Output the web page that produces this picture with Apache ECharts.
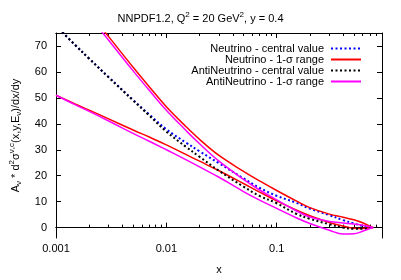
<!DOCTYPE html>
<html><head><meta charset="utf-8">
<script src="https://cdn.jsdelivr.net/npm/echarts@6/dist/echarts.min.js"></script>
<style>html,body{margin:0;padding:0;background:#fff}#c{width:401px;height:280px}</style>
</head><body><div id="c"></div>
<script>
const xValues      = [0.001, 0.0015, 0.002, 0.003, 0.005, 0.007, 0.01, 0.015, 0.02, 0.03, 0.05, 0.07, 0.1, 0.15, 0.2, 0.3, 0.4, 0.5, 0.6, 0.7, 0.75];
const nuCentral    = [77.8, 70.25, 65.1, 58.0, 49.2, 43.6, 37.9, 32.8, 29.4, 24.8, 19.0, 15.35, 12.25, 9.6, 7.3, 4.8, 2.9, 1.6, 0.7, 0.15, 0];
const nuUpper      = [100, 89.8, 82.9, 73.6, 61.8, 54.3, 46.6, 39.0, 34.0, 27.8, 21.7, 18.0, 14.3, 10.3, 7.7, 5.2, 4.0, 3.0, 1.9, 0.6, 0];
const nuLower      = [51, 47.6, 45.3, 41.9, 37.6, 34.9, 31.9, 28.2, 25.6, 21.9, 17.0, 13.7, 10.3, 6.8, 4.6, 2.0, 0.6, -0.2, -0.3, -0.1, 0];
const nubarCentral = [77.8, 70.25, 65.1, 57.9, 49.0, 43.2, 37.0, 31.2, 27.3, 21.9, 15.8, 12.2, 9.4, 5.35, 3.4, 1.3, 0.0, -0.45, -0.45, -0.15, 0];
const nubarUpper   = [98.5, 88.5, 81.5, 72.2, 60.4, 52.9, 45.2, 37.5, 32.3, 25.6, 18.6, 14.5, 10.7, 6.5, 4.1, 2.4, 1.8, 1.4, 0.9, 0.3, 0];
const nubarLower   = [51, 47.3, 44.8, 41.1, 36.3, 33.3, 30.0, 26.2, 23.4, 19.4, 13.9, 10.6, 7.4, 3.8, 1.6, -1.0, -2.5, -2.4, -1.4, -0.4, 0];
const xMajorTicks  = [0.001, 0.01, 0.1];
const xMinorTicks  = [0.002,0.003,0.004,0.005,0.006,0.007,0.008,0.009,0.02,0.03,0.04,0.05,0.06,0.07,0.08,0.09,0.2,0.3,0.4,0.5,0.6,0.7,0.8];
const yTicks       = [0, 10, 20, 30, 40, 50, 60, 70];
const names = ['Neutrino - central value', 'Neutrino - 1-σ range', 'AntiNeutrino - central value', 'AntiNeutrino - 1-σ range'];

const FONT = 'Liberation Sans';
const pairs = ys => xValues.map((x, i) => [x, ys[i]]);
const rich = {
  n: {fontSize: 11, lineHeight: 15, fontFamily: FONT, fontWeight: 'normal', color: '#000'},
  sup: {fontSize: 8, lineHeight: 8, verticalAlign: 'top', fontFamily: FONT, fontWeight: 'normal', color: '#000'},
  sub: {fontSize: 8, lineHeight: 8, verticalAlign: 'bottom', fontFamily: FONT, fontWeight: 'normal', color: '#000'}
};
const axisLine = {show: true, lineStyle: {color: '#000', width: 1}};
function xAx(pos, ticks, len, labels, extra) {
  return Object.assign({
    type: 'log', logBase: 10, min: 0.001, max: 0.9, position: pos, gridIndex: 0,
    axisLine: axisLine,
    axisTick: {show: true, inside: true, length: len, customValues: ticks, lineStyle: {color: '#000'}},
    axisLabel: labels ? {show: true, customValues: xMajorTicks, fontSize: 11, fontFamily: FONT, color: '#000', margin: 5,
      formatter: v => String(Number(v.toPrecision(3)))} : {show: false},
    splitLine: {show: false}, minorTick: {show: false}
  }, extra || {});
}
function yAx(pos, labels) {
  return {
    type: 'value', min: -4, max: 75, position: pos,
    axisLine: axisLine,
    axisTick: {show: true, inside: true, length: 5, customValues: yTicks, lineStyle: {color: '#000'}},
    axisLabel: labels ? {show: true, customValues: yTicks, fontSize: 11, fontFamily: FONT, color: '#000', margin: 9} : {show: false},
    splitLine: {show: false},
    name: labels ? '{n|A}{sub|ν}{n| * d}{sup|2}{n|σ}{sup|ν,c}{n|(x,y,E}{sub|ν}{n|)/dx/dy}' : '',
    nameLocation: 'middle', nameGap: 33, nameRotate: 90,
    nameTextStyle: {rich: rich}
  };
}
function line(name, ys, color, dotted) {
  return {
    type: 'line', name: name, data: pairs(ys), xAxisIndex: 0, yAxisIndex: 0,
    symbol: 'none', smooth: 0.4, clip: true,
    lineStyle: dotted ? {color: color, width: 2, type: [2, 2.5], cap: 'butt'} : {color: color, width: 1.5},
    itemStyle: {color: color},
    emphasis: {disabled: true}
  };
}
const chart = echarts.init(document.getElementById('c'), null, {renderer: 'canvas'});
chart.setOption({
  animation: false,
  backgroundColor: '#fff',
  title: {
    text: '{n|NNPDF1.2, Q}{sup|2}{n| = 20 GeV}{sup|2}{n|, y = 0.4}',
    left: 'center', top: 6,
    textStyle: {fontWeight: 'normal', rich: rich}
  },
  grid: {left: 50, right: 19, top: 33, bottom: 34, containLabel: false},
  xAxis: [
    xAx('bottom', xMajorTicks, 5, true, {name: 'x', nameLocation: 'middle', nameGap: 26,
      nameTextStyle: {fontSize: 11, fontFamily: FONT, color: '#000'}}),
    xAx('bottom', xMinorTicks, 3, false),
    xAx('top', xMajorTicks, 5, false),
    xAx('top', xMinorTicks, 3, false)
  ],
  yAxis: [yAx('left', true), yAx('right', false)],
  legend: {
    orient: 'vertical', right: 34, top: 38, align: 'right',
    itemWidth: 30, itemHeight: 8, itemGap: 0,
    itemStyle: {opacity: 0},
    textStyle: {fontSize: 11, lineHeight: 11, fontFamily: FONT, color: '#000', padding: [0, 2, 0, 0]},
    data: names, selectedMode: false
  },
  series: [
    line(names[0], nuCentral, '#0000ff', true),
    line(names[1], nuUpper, '#ff0000', false),
    line(names[1], nuLower, '#ff0000', false),
    line(names[2], nubarCentral, '#000000', true),
    line(names[3], nubarUpper, '#ff00ff', false),
    line(names[3], nubarLower, '#ff00ff', false)
  ]
});
</script></body></html>
